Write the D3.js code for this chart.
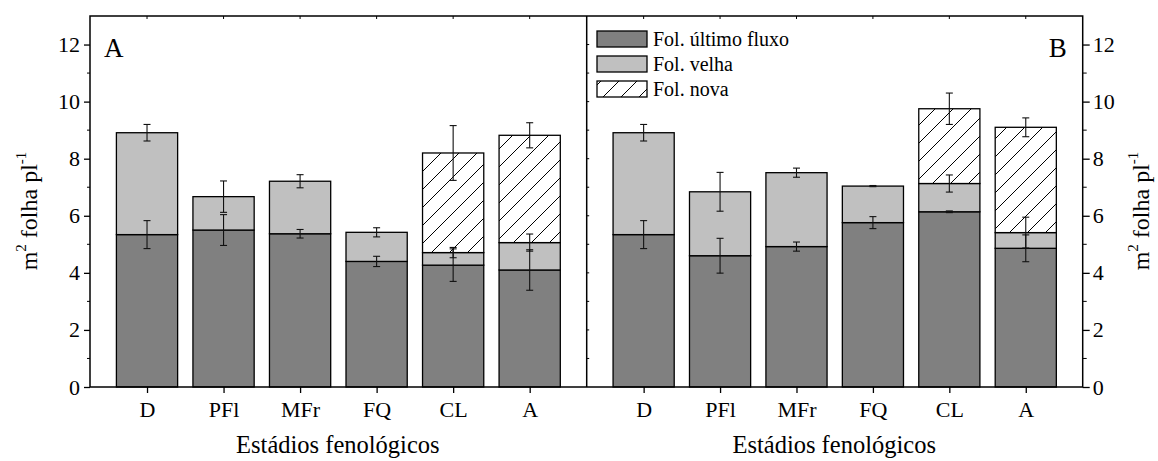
<!DOCTYPE html>
<html>
<head>
<meta charset="utf-8">
<script src="https://cdn.jsdelivr.net/npm/d3@7"></script>
<style>
  body { margin: 0; background: #fff; }
  svg text { font-family: "Liberation Serif", "DejaVu Serif", serif; }
</style>
</head>
<body>
<svg id="chart" width="1158" height="461"></svg>
<script>
// categories (phenological stages)
const stages = ["D", "PFl", "MFr", "FQ", "CL", "A"];

// panel A: segment values (m2 leaf per plant) and their errors
const aUltimo = [5.34, 5.50, 5.37, 4.40, 4.27, 4.10];
const aVelha  = [3.57, 1.17, 1.84, 1.02, 0.44, 0.96];
const aNova   = [0, 0, 0, 0, 3.49, 3.76];
const aUltimoErr = [0.49, 0.54, 0.15, 0.18, 0.57, 0.71];
const aVelhaErr  = [0.29, 0.55, 0.23, 0.16, 0.18, 0.30];
const aNovaErr   = [0, 0, 0, 0, 0.96, 0.44];

// panel B
const bUltimo = [5.34, 4.60, 4.92, 5.76, 6.14, 4.86];
const bVelha  = [3.57, 2.24, 2.59, 1.28, 0.99, 0.55];
const bNova   = [0, 0, 0, 0, 2.62, 3.69];
const bUltimoErr = [0.49, 0.61, 0.16, 0.21, 0.03, 0.47];
const bVelhaErr  = [0.29, 0.68, 0.16, 0.02, 0.30, 0.54];
const bNovaErr   = [0, 0, 0, 0, 0.55, 0.33];

const seriesNames = ["Fol. último fluxo", "Fol. velha", "Fol. nova"];
const yTicks = [0, 2, 4, 6, 8, 10, 12];

const svg = d3.select("#chart");
const plotTop = 16, plotBottom = 387;
const xLeft = 90, xMid = 586.7, xRight = 1082.7;
const serif = "Liberation Serif, DejaVu Serif, serif";

const y = d3.scaleLinear().domain([0, 13]).range([plotBottom, plotTop]);

// hatch pattern for "Fol. nova"
const defs = svg.append("defs");
const pat = defs.append("pattern")
  .attr("id", "hatch")
  .attr("patternUnits", "userSpaceOnUse")
  .attr("width", 18).attr("height", 18);
pat.append("rect").attr("width", 18).attr("height", 18).attr("fill", "#fff");
pat.append("path")
  .attr("d", "M0,18 L18,0 M-4.5,4.5 L4.5,-4.5 M13.5,22.5 L22.5,13.5")
  .attr("stroke", "#000").attr("stroke-width", 1);

const fills = ["#808080", "#c0c0c0", "url(#hatch)"];

function drawPanel(x0, x1, ultimo, velha, nova, errs, label, labelRight) {
  const x = d3.scalePoint().domain(stages).range([x0, x1]).padding(0.745);
  const bw = x.step() * 0.8;
  const g = svg.append("g");

  const rows = stages.map((s, i) => ({
    stage: s,
    segs: [ultimo[i], velha[i], nova[i]],
    errs: errs.map(e => e[i])
  }));

  rows.forEach(r => {
    let base = 0;
    r.segs.forEach((v, k) => {
      if (v <= 0) return;
      g.append("rect")
        .attr("x", x(r.stage) - bw / 2)
        .attr("width", bw)
        .attr("y", y(base + v))
        .attr("height", y(base) - y(base + v))
        .attr("fill", fills[k])
        .attr("stroke", "#000")
        .attr("stroke-width", 1.3);
      base += v;
    });
  });

  // error bars at each stacked top
  rows.forEach(r => {
    let base = 0;
    r.segs.forEach((v, k) => {
      if (v <= 0) return;
      base += v;
      const e = r.errs[k];
      const cx = x(r.stage);
      const eg = g.append("g").attr("stroke", "#111").attr("stroke-width", 1.1);
      eg.append("line").attr("x1", cx).attr("x2", cx)
        .attr("y1", y(base + e)).attr("y2", y(base - e));
      [base + e, base - e].forEach(v2 => {
        eg.append("line").attr("x1", cx - 3.5).attr("x2", cx + 3.5)
          .attr("y1", y(v2)).attr("y2", y(v2));
      });
    });
  });

  // bottom axis
  const xAxis = g.append("g")
    .attr("transform", `translate(0,${plotBottom})`)
    .call(d3.axisBottom(x).tickSize(6).tickPadding(8));
  xAxis.attr("font-family", serif);
  xAxis.select(".domain").remove();
  xAxis.selectAll("line").attr("stroke", "#000").attr("stroke-width", 1.3);
  xAxis.selectAll("text").attr("font-size", 22).attr("fill", "#000");

  // top inner ticks
  g.append("g").selectAll("line").data(stages).join("line")
    .attr("x1", d => x(d)).attr("x2", d => x(d))
    .attr("y1", plotTop).attr("y2", plotTop + 3)
    .attr("stroke", "#000").attr("stroke-width", 1);

  // x title
  g.append("text")
    .attr("x", (x0 + x1) / 2 - 0.5).attr("y", 453)
    .attr("text-anchor", "middle")
    .attr("font-size", 24.5)
    .text("Estádios fenológicos");

  // panel letter
  g.append("text")
    .attr("x", labelRight ? x1 - 16 : x0 + 14)
    .attr("y", 57)
    .attr("text-anchor", labelRight ? "end" : "start")
    .attr("font-size", 27)
    .text(label);
}

drawPanel(xLeft, xMid, aUltimo, aVelha, aNova, [aUltimoErr, aVelhaErr, aNovaErr], "A", false);
drawPanel(xMid, xRight, bUltimo, bVelha, bNova, [bUltimoErr, bVelhaErr, bNovaErr], "B", true);

// y axes
function styleAxis(ax) {
  ax.attr("font-family", serif);
  ax.select(".domain").remove();
  ax.selectAll("line").attr("stroke", "#000").attr("stroke-width", 1.3);
  ax.selectAll("text").attr("font-size", 22).attr("fill", "#000");
}
const yl = svg.append("g").attr("transform", `translate(${xLeft},0)`)
  .call(d3.axisLeft(y).tickValues(yTicks).tickFormat(d3.format("d")).tickSize(6).tickPadding(4));
styleAxis(yl);
const yr = svg.append("g").attr("transform", `translate(${xRight},0)`)
  .call(d3.axisRight(y).tickValues(yTicks).tickFormat(d3.format("d")).tickSize(7).tickPadding(3));
styleAxis(yr);

// minor ticks
const minor = d3.range(1, 13, 2);
svg.append("g").selectAll("line").data(minor).join("line")
  .attr("x1", xLeft - 3).attr("x2", xLeft)
  .attr("y1", d => y(d)).attr("y2", d => y(d))
  .attr("stroke", "#000").attr("stroke-width", 1);
svg.append("g").selectAll("line").data(minor).join("line")
  .attr("x1", xRight).attr("x2", xRight + 4)
  .attr("y1", d => y(d)).attr("y2", d => y(d))
  .attr("stroke", "#000").attr("stroke-width", 1);
svg.append("g").selectAll("line").data(d3.range(1, 13)).join("line")
  .attr("x1", xMid).attr("x2", xMid + 2.5)
  .attr("y1", d => y(d)).attr("y2", d => y(d))
  .attr("stroke", "#000").attr("stroke-width", 1);

// frame
svg.append("rect")
  .attr("x", xLeft).attr("y", plotTop)
  .attr("width", xRight - xLeft).attr("height", plotBottom - plotTop)
  .attr("fill", "none").attr("stroke", "#000").attr("stroke-width", 1.5);
svg.append("line")
  .attr("x1", xMid).attr("x2", xMid).attr("y1", plotTop).attr("y2", plotBottom)
  .attr("stroke", "#000").attr("stroke-width", 1.5);

// y titles
function yTitle(cx) {
  const t = svg.append("text")
    .attr("transform", `translate(${cx},211) rotate(-90)`)
    .attr("text-anchor", "middle")
    .attr("font-size", 24);
  t.append("tspan").text("m");
  t.append("tspan").attr("dy", -11).attr("font-size", 15).text("2");
  t.append("tspan").attr("dy", 11).text(" folha pl");
  t.append("tspan").attr("dy", -11).attr("font-size", 15).text("-1");
}
yTitle(37);
yTitle(1149);

// legend
const leg = svg.append("g").attr("transform", "translate(597,31)");
seriesNames.forEach((n, i) => {
  leg.append("rect")
    .attr("x", 0).attr("y", i * 25)
    .attr("width", 50).attr("height", 16)
    .attr("fill", fills[i])
    .attr("stroke", "#000").attr("stroke-width", 1.3);
  leg.append("text")
    .attr("x", 56).attr("y", i * 25 + 15)
    .attr("font-size", 20)
    .text(n);
});
</script>
</body>
</html>
